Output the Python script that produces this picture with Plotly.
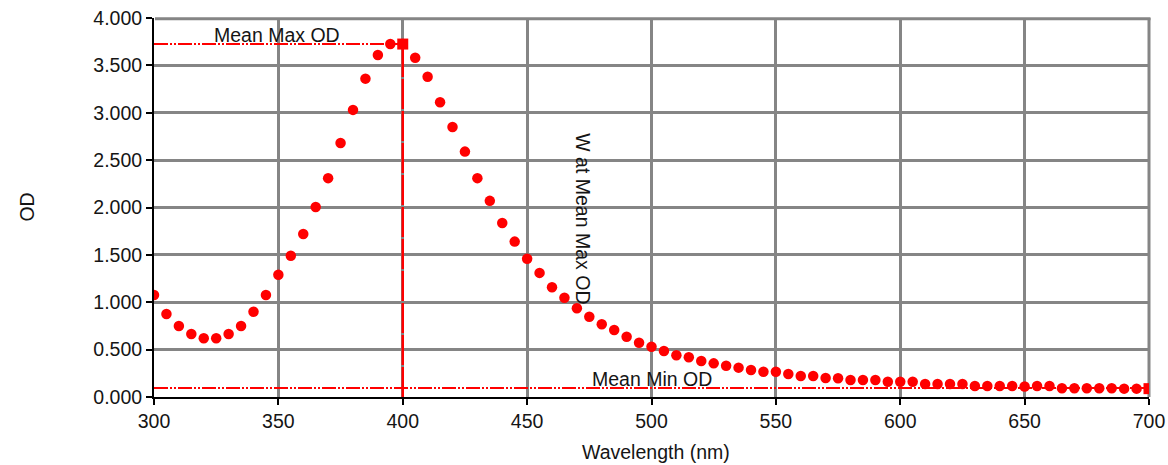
import plotly.graph_objects as go

wavelength = list(range(300, 705, 5))
od = [1.077, 0.876, 0.75, 0.665, 0.62, 0.62, 0.665, 0.75, 0.90, 1.077,
      1.29, 1.49, 1.72, 2.005, 2.31, 2.68, 3.03, 3.36, 3.61, 3.725,
      3.725, 3.58, 3.38, 3.11, 2.85, 2.59, 2.31, 2.07, 1.836, 1.64,
      1.46, 1.31, 1.158, 1.048, 0.936, 0.847, 0.767, 0.707, 0.636, 0.573,
      0.53, 0.485, 0.44, 0.419, 0.38, 0.355, 0.33, 0.31, 0.285, 0.267,
      0.267, 0.243, 0.222, 0.222, 0.20, 0.197, 0.179, 0.179, 0.179, 0.161,
      0.161, 0.161, 0.137, 0.137, 0.137, 0.137, 0.116, 0.116, 0.116, 0.116,
      0.11, 0.116, 0.116, 0.092, 0.092, 0.092, 0.092, 0.092, 0.088, 0.088,
      0.088]
mean_max_od = 3.725
mean_min_od = 0.095
w_at_max = 400
x_ticks = [300, 350, 400, 450, 500, 550, 600, 650, 700]
y_ticks = [0, 0.5, 1.0, 1.5, 2.0, 2.5, 3.0, 3.5, 4.0]

RED = "#ff0000"
GRID = "#858585"
FONT = "Liberation Sans, Arial, sans-serif"
TXT = "#151515"
FS = 19.5

fig = go.Figure()
# reference lines
fig.add_trace(go.Scatter(x=[300, w_at_max], y=[mean_max_od, mean_max_od], mode="lines",
                         line=dict(color=RED, width=2, dash="14px,2px,2px,2px,2px,2px"),
                         showlegend=False, hoverinfo="skip"))
fig.add_trace(go.Scatter(x=[300, 700], y=[mean_min_od, mean_min_od], mode="lines",
                         line=dict(color=RED, width=2, dash="14px,2px,2px,2px,2px,2px"),
                         showlegend=False, hoverinfo="skip"))
fig.add_trace(go.Scatter(x=[w_at_max, w_at_max], y=[0, mean_max_od], mode="lines",
                         line=dict(color=RED, width=2.5, dash="30px,2px"),
                         showlegend=False, hoverinfo="skip"))
# data points
fig.add_trace(go.Scatter(x=wavelength, y=od, mode="markers",
                         marker=dict(color=RED, size=10.5, symbol="circle"),
                         showlegend=False))
# square markers
fig.add_trace(go.Scatter(x=[w_at_max, wavelength[-1]], y=[mean_max_od, od[-1]], mode="markers",
                         marker=dict(color=RED, size=11, symbol="square"),
                         showlegend=False))

fig.add_annotation(x=349.5, y=mean_max_od, text="Mean Max OD", showarrow=False,
                   yanchor="bottom", yshift=-4, font=dict(family=FONT, size=FS, color=TXT))
fig.add_annotation(x=500, y=mean_min_od, text="Mean Min OD", showarrow=False,
                   yanchor="bottom", yshift=-4, font=dict(family=FONT, size=FS, color=TXT))
fig.add_annotation(x=472.7, y=1.88, text="W at Mean Max OD", showarrow=False, textangle=90,
                   font=dict(family=FONT, size=FS, color=TXT))
# axis titles
fig.add_annotation(xref="paper", yref="paper", x=-0.1286, y=0.5, text="OD", showarrow=False,
                   xanchor="center", yanchor="middle",
                   textangle=-90, font=dict(family=FONT, size=FS, color=TXT))
fig.add_annotation(xref="paper", yref="paper", x=0.505, y=-0.145, text="Wavelength (nm)",
                   xanchor="center", yanchor="middle",
                   showarrow=False, font=dict(family=FONT, size=FS, color=TXT))

# frame (top/right grey)
fig.add_shape(type="line", xref="paper", yref="paper", x0=0.001, x1=1.0015, y0=0.998, y1=0.998,
              line=dict(color=GRID, width=3), layer="above")
fig.add_shape(type="line", xref="paper", yref="paper", x0=1, x1=1, y0=0, y1=1,
              line=dict(color=GRID, width=3), layer="below")

fig.update_layout(
    width=1168, height=465,
    margin=dict(l=154, r=19, t=18, b=68, autoexpand=False),
    plot_bgcolor="white", paper_bgcolor="white",
    font=dict(family=FONT, size=FS, color=TXT),
)
fig.update_xaxes(range=[300, 700], tickvals=x_ticks, showgrid=True, gridcolor=GRID, gridwidth=3,
                 showline=True, linecolor="black", linewidth=2, ticks="outside", ticklen=6,
                 tickwidth=2, tickcolor="black", zeroline=False, automargin=False,
                 ticklabeloverflow="allow")
fig.update_yaxes(range=[0, 4.0], tickvals=y_ticks, tickformat=".3f", showgrid=True, gridcolor=GRID,
                 gridwidth=3, showline=True, linecolor="black", linewidth=2, ticks="outside",
                 ticklen=6, tickwidth=2, tickcolor="black", zeroline=False, automargin=False,
                 ticklabeloverflow="allow")

# remove the default page margin so the figure fills the window exactly
fig.write_html("out.html", config={"displayModeBar": False},
               post_script="document.body.style.margin='0';document.body.style.overflow='hidden';")
